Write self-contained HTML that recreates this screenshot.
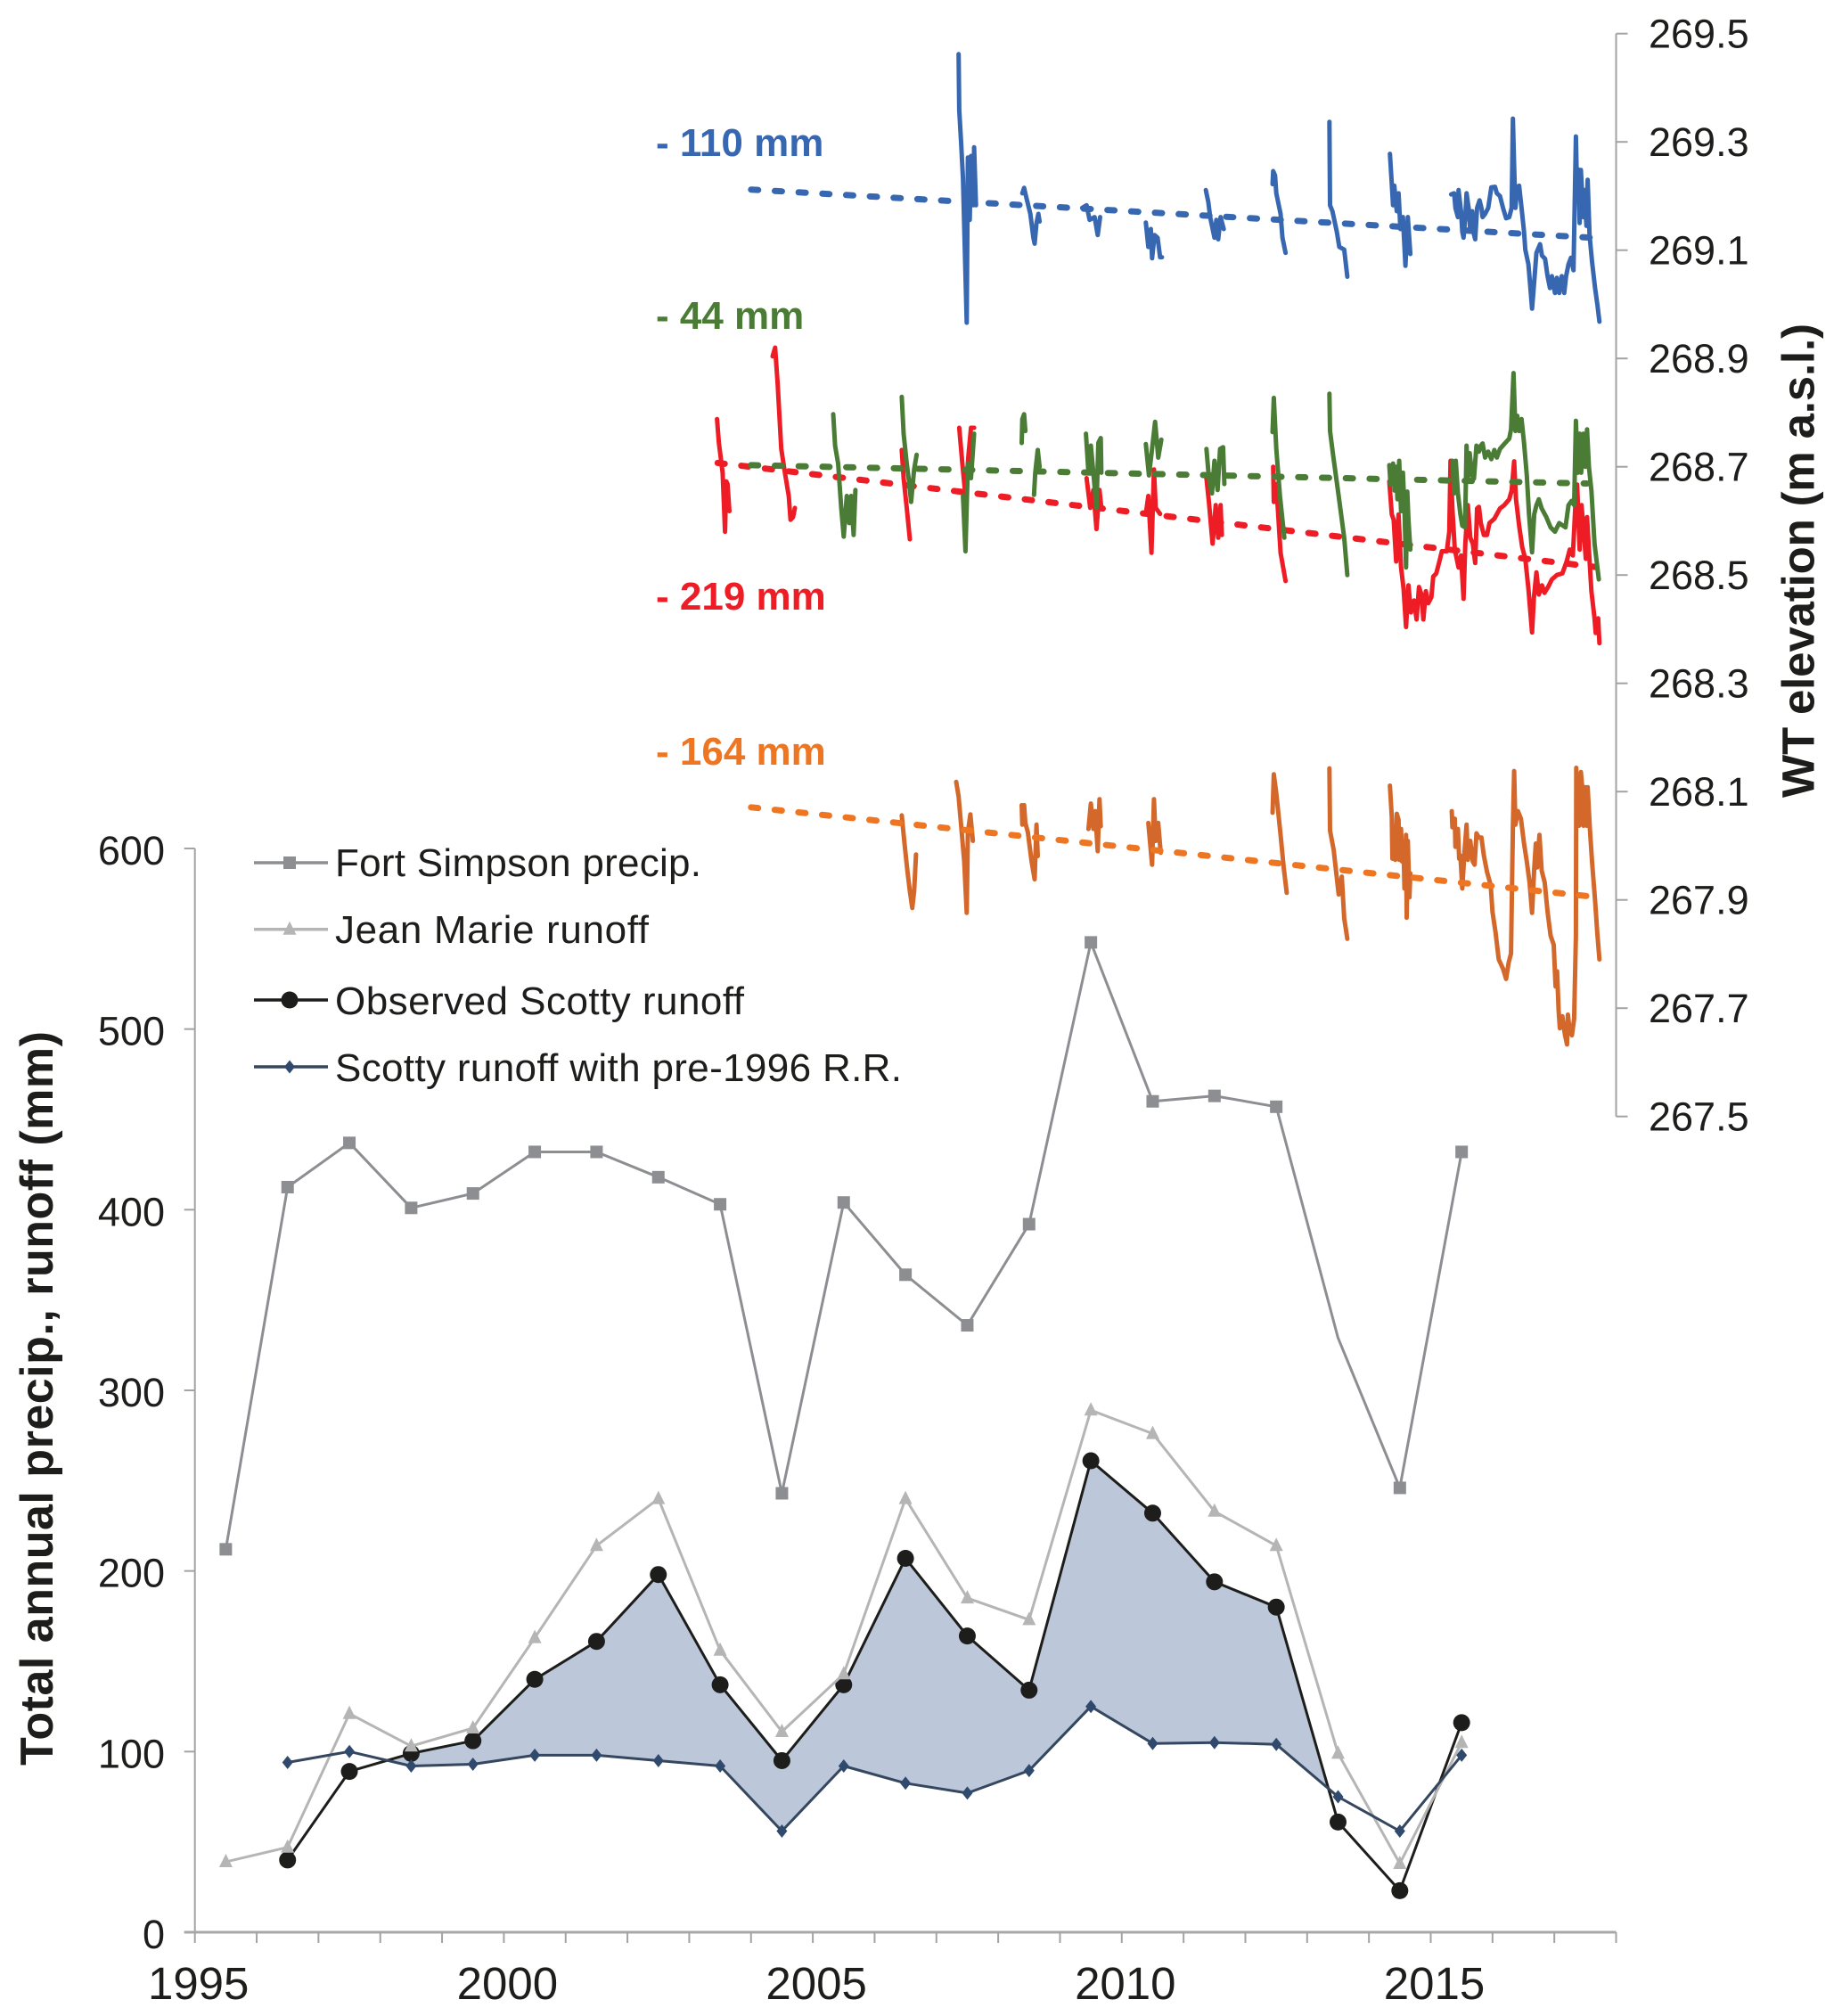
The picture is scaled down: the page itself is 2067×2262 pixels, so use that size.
<!DOCTYPE html>
<html lang="en">
<head>
<meta charset="utf-8">
<title>Annual precipitation, runoff and water table elevation</title>
<style>
html,body{margin:0;padding:0;background:#fff;}
#chart{display:block;width:2067px;height:2262px;font-family:"Liberation Sans",Arial,sans-serif;}
.tick{font-size:45px;fill:#1d1d1b;}
.xtick{font-size:51px;fill:#1d1d1b;text-anchor:middle;}
.legend{font-size:44px;fill:#1d1d1b;}
.title{font-size:51px;font-weight:bold;fill:#1d1d1b;}
.delta{font-size:44px;font-weight:bold;}
</style>
</head>
<body>
<svg id="chart" xmlns="http://www.w3.org/2000/svg" width="2067" height="2262" viewBox="0 0 2067 2262">
  <rect x="0" y="0" width="2067" height="2262" fill="#ffffff"/>
  <g id="axes"></g>
  <g id="shade"></g>
  <g id="wt"></g>
  <g id="annual"></g>
  <g id="legend">
    <text class="legend" x="376" y="983" textLength="411" lengthAdjust="spacing">Fort Simpson precip.</text>
    <text class="legend" x="376" y="1058" textLength="352" lengthAdjust="spacing">Jean Marie runoff</text>
    <text class="legend" x="376" y="1138" textLength="459" lengthAdjust="spacing">Observed Scotty runoff</text>
    <text class="legend" x="376" y="1213" textLength="636" lengthAdjust="spacing">Scotty runoff with pre-1996 R.R.</text>
  </g>
  <text class="delta" x="736" y="175" fill="#3767b1">- 110 mm</text>
  <text class="delta" x="736" y="369" fill="#4a7c35">- 44 mm</text>
  <text class="delta" x="736" y="684" fill="#ee1c25">- 219 mm</text>
  <text class="delta" x="736" y="858" fill="#ee7623">- 164 mm</text>
  <text class="title" style="font-size:52px" transform="translate(59,1981) rotate(-90)" textLength="824" lengthAdjust="spacing">Total annual precip., runoff (mm)</text>
  <text class="title" transform="translate(2035.6,895) rotate(-90)" textLength="532" lengthAdjust="spacing">WT elevation (m a.s.l.)</text>
</svg>
<script>
const xTickLabels = ["1995","2000","2005","2010","2015"];
const leftTickLabels = ["0","100","200","300","400","500","600"];
const rightTickLabels = ["267.5","267.7","267.9","268.1","268.3","268.5","268.7","268.9","269.1","269.3","269.5"];

const annualYears = [1995.5,1996.5,1997.5,1998.5,1999.5,2000.5,2001.5,2002.5,2003.5,2004.5,2005.5,2006.5,2007.5,2008.5,2009.5,2010.5,2011.5,2012.5,2013.5,2014.5,2015.5];
const fortSimpsonPrecip = [212,412.5,437,401,409,432,432,418,403,243,404,364,336,392,548,460,463,457,329,246,432];
const fortSimpsonMarked = [1,1,1,1,1,1,1,1,1,1,1,1,1,1,1,1,1,1,0,1,1];
const jeanMarieRunoff = [39,47,121,103,113,163,214,240,156,111,143,240,185,173,289,276,233,214,99,38,105];
const observedScottyRunoff = [null,40,89,99,106,140,161,198,137,95,137,207,164,134,261,232,194,180,61,23,116];
const scottyPre1996Runoff = [null,94,100,92,93,98,98,95,92,56,92,82.5,77,89.5,125,104.5,105,104,75,56,98];
const shadeYears = [1997.5,2014.5];

const blueYears = [
2007.36,2007.37,2007.40,2007.43,2007.49,2007.51,2007.54,2007.56,2007.60,2007.61,2007.64,null,
2008.39,2008.42,2008.45,2008.52,2008.57,2008.59,2008.62,2008.65,2008.67,null,
2009.36,2009.43,2009.48,2009.56,2009.61,2009.65,null,
2010.39,2010.43,2010.47,2010.49,2010.53,2010.58,2010.62,2010.65,null,
2011.36,2011.40,2011.43,2011.50,2011.53,2011.56,2011.60,2011.65,null,
2012.44,2012.45,2012.48,2012.50,2012.57,2012.60,2012.65,null,
2013.36,2013.37,2013.41,2013.48,2013.52,2013.60,2013.65,null,
2014.34,2014.37,2014.39,2014.41,2014.45,2014.48,2014.51,2014.55,2014.59,2014.63,2014.67,null,
2015.33,2015.38,2015.40,2015.44,2015.45,2015.49,2015.51,2015.53,2015.56,2015.58,
2015.62,2015.64,2015.67,2015.69,2015.72,2015.75,2015.79,2015.82,2015.84,2015.88,
2015.93,2015.98,2016.04,2016.07,2016.12,2016.17,2016.22,2016.27,2016.31,2016.33,
2016.35,2016.37,2016.40,2016.43,2016.47,2016.51,2016.53,2016.58,2016.61,2016.64,
2016.67,2016.71,2016.77,2016.80,2016.85,2016.89,2016.93,2016.96,2017.01,2017.04,
2017.08,2017.12,2017.16,2017.19,2017.23,2017.27,2017.31,2017.34,2017.35,2017.37,
2017.39,2017.41,2017.43,2017.47,2017.49,2017.52,2017.54,2017.57,2017.61,2017.66,
2017.70,2017.73
];
const blueLevels = [
269.462,269.359,269.299,269.233,268.966,269.271,269.156,269.274,269.183,269.290,269.183,null,
269.205,269.215,269.200,269.167,269.123,269.112,269.150,269.167,269.153,null,
269.178,269.183,269.156,269.161,269.128,269.161,null,
269.151,269.106,269.139,269.085,269.128,269.123,269.087,269.087,null,
269.211,269.189,269.161,269.123,269.156,269.120,269.161,269.139,null,
269.222,269.246,269.238,269.205,269.167,269.123,269.095,null,
269.337,269.183,269.172,269.134,269.106,269.101,269.051,null,
269.278,269.222,269.183,269.219,269.172,269.205,269.139,269.161,269.071,269.161,269.093,null,
269.203,269.205,269.178,269.161,269.211,269.172,269.134,269.123,269.161,269.205,
269.172,269.134,269.172,269.134,269.120,269.178,269.192,269.178,269.161,269.167,
269.178,269.216,269.217,269.205,269.200,269.178,269.159,269.161,269.178,269.343,
269.255,269.178,269.216,269.219,269.178,269.134,269.101,269.074,269.035,268.992,
269.035,269.095,269.111,269.090,269.084,269.052,269.030,269.052,269.021,269.049,
269.021,269.052,269.021,269.052,269.074,269.086,269.063,269.255,269.310,269.200,
269.249,269.150,269.248,269.161,269.211,269.145,269.230,269.128,269.079,269.030,
268.997,268.968
];
const blueTrendYears = [2004.00,2017.60];
const blueTrendLevels = [269.212,269.123];

const greenYears = [
2005.33,2005.36,2005.41,2005.46,2005.50,2005.55,2005.59,2005.62,2005.66,2005.69,null,
2006.44,2006.47,2006.52,2006.55,2006.59,2006.64,2006.68,null,
2007.43,2007.47,2007.51,2007.56,2007.61,null,
2008.38,2008.39,2008.42,2008.44,null,
2008.58,2008.60,2008.64,2008.67,null,
2009.42,2009.46,2009.50,2009.54,2009.59,2009.62,2009.66,2009.67,null,
2010.39,2010.44,2010.49,2010.54,2010.59,2010.64,null,
2011.37,2011.41,2011.46,2011.50,2011.55,2011.59,2011.64,2011.66,null,
2012.44,2012.46,2012.50,2012.56,2012.63,null,
2013.36,2013.37,2013.42,2013.51,2013.60,2013.65,null,
2014.33,2014.35,2014.39,2014.415,2014.44,2014.46,2014.49,2014.52,2014.55,2014.575,2014.60,2014.62,2014.64,2014.67,null,
2015.35,2015.38,2015.405,2015.44,2015.48,2015.51,2015.555,2015.58,2015.60,2015.63,
2015.67,2015.70,2015.74,2015.78,2015.81,2015.84,2015.88,2015.93,2015.98,2016.03,
2016.07,2016.12,2016.19,2016.27,2016.30,2016.34,2016.37,2016.40,2016.43,2016.47,
2016.51,2016.555,2016.59,2016.64,2016.675,2016.71,2016.75,2016.795,2016.87,2016.94,
2017.01,2017.08,2017.18,2017.23,2017.28,2017.32,2017.35,2017.38,2017.41,2017.435,
2017.47,2017.50,2017.53,2017.56,2017.60,2017.65,2017.685,2017.72
];
const greenLevels = [
268.797,268.739,268.706,268.624,268.571,268.646,268.596,268.646,268.574,268.657,null,
268.829,268.761,268.706,268.679,268.635,268.695,268.722,null,
268.646,268.544,268.706,268.679,268.761,null,
268.744,268.788,268.797,268.766,null,
268.648,268.689,268.731,268.700,null,
268.761,268.689,268.739,268.689,268.624,268.744,268.753,268.689,null,
268.742,268.684,268.733,268.783,268.717,268.750,null,
268.733,268.679,268.651,268.711,268.657,268.733,268.736,268.668,null,
268.764,268.827,268.733,268.646,268.569,null,
268.835,268.766,268.722,268.646,268.569,268.500,null,
268.703,268.667,268.706,268.656,268.700,268.640,268.711,268.618,268.689,268.623,268.514,268.654,268.602,268.547,null,
268.711,268.651,268.711,268.651,268.612,268.591,268.588,268.739,268.678,268.725,
268.684,268.678,268.739,268.728,268.739,268.743,268.717,268.728,268.714,268.731,
268.717,268.733,268.742,268.752,268.769,268.873,268.766,268.794,268.766,268.788,
268.744,268.684,268.612,268.542,268.612,268.629,268.640,268.623,268.607,268.588,
268.580,268.596,268.588,268.629,268.637,268.629,268.785,268.689,268.761,268.689,
268.761,268.700,268.769,268.700,268.656,268.558,268.525,268.492
];
const greenTrendYears = [2004.00,2017.53];
const greenTrendLevels = [268.703,268.669];

const redYears = [
2003.45,2003.48,2003.54,2003.58,2003.60,2003.62,2003.65,null,
2004.35,2004.39,2004.43,2004.49,2004.54,2004.61,2004.64,2004.68,2004.71,null,
2006.44,2006.47,2006.52,2006.57,null,
2007.37,2007.42,2007.47,2007.52,2007.56,2007.61,null,
2009.43,2009.49,2009.54,2009.59,2009.64,2009.67,null,
2010.39,2010.43,2010.48,2010.52,2010.55,2010.62,null,
2011.37,2011.41,2011.47,2011.52,2011.56,2011.60,2011.62,null,
2012.45,2012.46,2012.50,2012.57,2012.65,null,
2014.33,2014.37,2014.40,2014.44,2014.48,2014.52,2014.56,2014.60,2014.64,2014.68,
2014.73,2014.77,2014.81,2014.85,2014.88,2014.92,2014.96,2015.01,2015.04,2015.09,
2015.14,2015.18,2015.26,2015.30,2015.32,2015.35,2015.39,2015.45,2015.49,2015.53,
2015.56,2015.60,2015.64,2015.68,2015.72,2015.75,2015.78,2015.81,2015.86,2015.91,
2015.95,2016.03,2016.12,2016.19,2016.27,2016.31,2016.35,2016.38,2016.43,2016.48,
2016.53,2016.58,2016.64,2016.67,2016.71,2016.75,2016.80,2016.84,2016.90,2016.96,
2017.04,2017.13,2017.20,2017.25,2017.30,2017.34,2017.37,2017.41,2017.44,2017.48,
2017.51,2017.53,2017.56,2017.60,2017.65,2017.67,2017.71,2017.73
];
const redLevels = [
268.788,268.744,268.689,268.580,268.673,268.668,268.618,null,
268.904,268.920,268.854,268.733,268.695,268.646,268.602,268.607,268.624,null,
268.731,268.679,268.624,268.566,null,
268.772,268.706,268.646,268.722,268.772,268.772,null,
268.679,268.624,268.657,268.585,268.657,268.624,null,
268.613,268.646,268.541,268.695,268.624,268.613,null,
268.679,268.635,268.558,268.629,268.569,268.629,268.574,null,
268.700,268.635,268.668,268.541,268.489,null,
268.673,268.612,268.602,268.525,268.612,268.514,268.475,268.404,268.481,268.431,
268.453,268.418,268.478,268.464,268.418,268.470,268.448,268.459,268.497,268.503,
268.525,268.544,268.544,268.580,268.711,268.623,268.547,268.514,268.536,268.456,
268.558,268.629,268.569,268.558,268.522,268.623,268.626,268.596,268.574,268.574,
268.596,268.604,268.623,268.629,268.640,268.656,268.710,268.640,268.591,268.552,
268.530,268.475,268.394,268.459,268.505,268.464,268.481,268.467,268.478,268.492,
268.500,268.503,268.525,268.547,268.536,268.629,268.667,268.547,268.629,268.574,
268.530,268.607,268.547,268.470,268.420,268.393,268.420,268.374
];
const redTrendYears = [2003.46,2017.66];
const redTrendLevels = [268.707,268.515];

const orangeYears = [
2006.44,2006.48,2006.53,2006.57,2006.61,2006.64,2006.67,null,
2007.32,2007.36,2007.41,2007.45,2007.49,2007.51,2007.55,2007.59,null,
2008.38,2008.39,2008.42,2008.44,2008.48,2008.54,2008.59,2008.62,2008.64,null,
2009.46,2009.50,2009.54,2009.57,2009.61,2009.64,2009.66,null,
2010.43,2010.49,2010.52,2010.55,2010.59,2010.63,null,
2012.44,2012.46,2012.50,2012.57,2012.62,2012.67,null,
2013.36,2013.37,2013.43,2013.51,2013.56,2013.60,2013.65,null,
2014.34,2014.37,2014.38,2014.40,2014.425,2014.45,2014.48,2014.49,2014.52,2014.535,2014.56,2014.575,2014.60,2014.61,2014.63,2014.655,2014.67,null,
2015.34,2015.35,2015.39,2015.40,2015.44,2015.46,2015.48,2015.51,2015.545,2015.58,
2015.60,2015.64,2015.68,2015.71,2015.74,2015.78,2015.82,2015.86,2015.91,2015.97,
2016.00,2016.05,2016.10,2016.17,2016.22,2016.26,2016.30,2016.33,2016.35,2016.37,
2016.41,2016.46,2016.51,2016.555,2016.60,2016.64,2016.675,2016.70,2016.72,2016.76,
2016.795,2016.845,2016.89,2016.94,2016.99,2017.02,2017.045,2017.07,2017.09,2017.13,
2017.17,2017.205,2017.22,2017.25,2017.285,2017.32,2017.35,2017.355,2017.37,2017.40,
2017.43,2017.46,2017.47,2017.50,2017.525,2017.54,2017.575,2017.61,2017.66,2017.695,
2017.73
];
const orangeLevels = [
268.056,268.009,267.954,267.916,267.885,267.916,267.984,null,
268.118,268.091,268.025,267.971,267.876,268.025,268.058,268.009,null,
268.075,268.039,268.075,268.042,268.025,267.971,267.938,268.039,267.981,null,
268.031,268.078,268.031,268.064,267.990,268.086,268.036,null,
268.042,267.965,268.086,268.009,268.042,267.987,null,
268.061,268.132,268.097,268.020,267.960,267.913,null,
268.143,268.028,267.992,267.910,267.943,267.866,267.828,null,
268.111,268.053,267.976,268.031,267.974,268.059,268.048,267.974,268.031,267.971,267.998,267.921,268.020,267.867,268.009,267.905,267.949,null,
268.064,268.034,268.050,267.998,268.031,267.976,267.982,267.921,267.987,268.039,
267.974,268.009,267.971,267.965,268.023,268.015,268.015,267.982,267.952,267.927,
267.878,267.839,267.790,267.773,267.754,267.784,267.801,268.037,268.138,268.039,
268.064,268.050,268.004,267.971,267.932,267.876,267.957,268.004,267.960,268.020,
267.954,267.932,267.878,267.834,267.817,267.740,267.768,267.696,267.663,267.685,
267.652,267.633,267.688,267.658,267.650,267.680,267.834,268.144,268.053,268.037,
268.136,268.097,268.037,268.108,268.037,268.108,268.031,267.971,267.899,267.839,
267.790
];
const orangeTrendYears = [2004.00,2017.53];
const orangeTrendLevels = [268.071,267.907];

const NS = "http://www.w3.org/2000/svg";
const xAt = y => 218.7 + (y - 1995) * 69.34;
const yLeft = v => 2168 - v * 2.0267;
const yRight = v => 37.7 + (269.5 - v) * 607.5;

function make(parent, tag, attrs, text) {
  const el = document.createElementNS(NS, tag);
  for (const k in attrs) el.setAttribute(k, attrs[k]);
  if (text !== undefined) el.textContent = text;
  parent.appendChild(el);
  return el;
}
function num(v) { return v.toFixed(1); }

const axes = document.getElementById("axes");
const axisColor = "#a3a3a3";

/* left axis */
const leftAxis = make(axes, "line", {x1:xAt(1995),x2:xAt(1995),y1:yLeft(0),y2:yLeft(600),stroke:axisColor,"stroke-width":2});


leftTickLabels.forEach(t => {
  const v = parseFloat(t);
  const tick = make(axes, "line", {x1:xAt(1995)-12,x2:xAt(1995),y1:yLeft(v),y2:yLeft(v),stroke:axisColor,"stroke-width":2});
  
  
  const lab = make(axes, "text", {class:"tick",x:185,y:yLeft(v)+18,"text-anchor":"end"}, t);
  
  
});

/* bottom axis */
const bottomAxis = make(axes, "line", {x1:xAt(1995)-12,x2:xAt(2018),y1:yLeft(0),y2:yLeft(0),stroke:"#a8a8a8","stroke-width":3});


for (let yr = 1995; yr <= 2018; yr++) {
  const tick = make(axes, "line", {x1:xAt(yr),x2:xAt(yr),y1:yLeft(0),y2:yLeft(0)+12,stroke:axisColor,"stroke-width":2});
  
  
}
xTickLabels.forEach(t => {
  const lab = make(axes, "text", {class:"xtick",x:xAt(parseFloat(t))+4,y:2243}, t);
  
  
});

/* right axis */
const rightAxis = make(axes, "line", {x1:xAt(2018),x2:xAt(2018),y1:yRight(269.5),y2:yRight(267.5),stroke:axisColor,"stroke-width":2});


rightTickLabels.forEach(t => {
  const v = parseFloat(t);
  const tick = make(axes, "line", {x1:xAt(2018),x2:xAt(2018)+13,y1:yRight(v),y2:yRight(v),stroke:axisColor,"stroke-width":2});
  
  
  const lab = make(axes, "text", {class:"tick",x:1850,y:yRight(v)+15.8}, t);
  
  
});

/* shaded area between observed and pre-1996 runoff */
(function () {
  const top = [], bot = [];
  for (let i = 0; i < annualYears.length - 1; i++) {
    const y0 = annualYears[i], y1 = annualYears[i + 1];
    if (y0 < shadeYears[0] || y1 > shadeYears[1]) continue;
    const o0 = observedScottyRunoff[i], o1 = observedScottyRunoff[i + 1];
    const p0 = scottyPre1996Runoff[i], p1 = scottyPre1996Runoff[i + 1];
    const d0 = o0 - p0, d1 = o1 - p1;
    if (d0 <= 0 && d1 <= 0) continue;
    if (d0 > 0) { top.push([y0, o0]); bot.push([y0, p0]); }
    if (d0 * d1 < 0) {
      const t = d0 / (d0 - d1);
      const cy = y0 + t * (y1 - y0), cv = o0 + t * (o1 - o0);
      top.push([cy, cv]); bot.push([cy, cv]);
    }
  }
  const pts = top.concat(bot.reverse()).map(p => num(xAt(p[0])) + "," + num(yLeft(p[1]))).join(" ");
  const poly = make(document.getElementById("shade"), "polygon", {points:pts,fill:"#bcc7da"});
  
  
})();

/* water table lines */
const wt = document.getElementById("wt");
function tracePath(years, levels) {
  let d = "", pen = false;
  years.forEach((yr, i) => {
    if (yr === null || levels[i] === null) { pen = false; return; }
    d += (pen ? "L" : "M") + num(xAt(yr)) + " " + num(yRight(levels[i]));
    pen = true;
  });
  return d;
}
const wtStyle = {fill:"none","stroke-width":5,"stroke-linejoin":"round","stroke-linecap":"round"};
const trendStyle = {fill:"none","stroke-width":7,"stroke-linecap":"round","stroke-dasharray":"8 18.7"};

const orangeLine = make(wt, "path", Object.assign({d:tracePath(orangeYears, orangeLevels),stroke:"#d4682a"}, wtStyle));


const orangeTrend = make(wt, "path", Object.assign({d:tracePath(orangeTrendYears, orangeTrendLevels),stroke:"#ee7623"}, trendStyle));



const blueLine = make(wt, "path", Object.assign({d:tracePath(blueYears, blueLevels),stroke:"#3767b1"}, wtStyle));


const blueTrend = make(wt, "path", Object.assign({d:tracePath(blueTrendYears, blueTrendLevels),stroke:"#3767b1"}, trendStyle));



const redLine = make(wt, "path", Object.assign({d:tracePath(redYears, redLevels),stroke:"#ee1c25"}, wtStyle));


const redTrend = make(wt, "path", Object.assign({d:tracePath(redTrendYears, redTrendLevels),stroke:"#ee1c25"}, trendStyle));


const greenLine = make(wt, "path", Object.assign({d:tracePath(greenYears, greenLevels),stroke:"#4a7c35"}, wtStyle));


const greenTrend = make(wt, "path", Object.assign({d:tracePath(greenTrendYears, greenTrendLevels),stroke:"#4a7c35"}, trendStyle));



/* markers */
function marker(parent, kind, cx, cy, color) {
  if (kind === "square") return make(parent, "rect", {x:cx-7,y:cy-7,width:14,height:14,fill:color});
  if (kind === "circle") return make(parent, "ellipse", {cx:cx,cy:cy,rx:9.5,ry:9.5,fill:color});
  if (kind === "triangle") return make(parent, "polygon", {points:`${num(cx)},${num(cy-9)} ${num(cx+7.5)},${num(cy+6)} ${num(cx-7.5)},${num(cy+6)}`,fill:color});
  return make(parent, "polygon", {points:`${num(cx)},${num(cy-7.5)} ${num(cx+6)},${num(cy)} ${num(cx)},${num(cy+7.5)} ${num(cx-6)},${num(cy)}`,fill:color});
}

const annual = document.getElementById("annual");
function drawSeries(values, color, kind, marked) {
  let d = "", pen = false;
  values.forEach((v, i) => {
    if (v === null) { pen = false; return; }
    d += (pen ? "L" : "M") + num(xAt(annualYears[i])) + " " + num(yLeft(v));
    pen = true;
  });
  const line = make(annual, "path", {d:d,fill:"none",stroke:color,"stroke-width":3,"stroke-linejoin":"round"});
  
  
  values.forEach((v, i) => {
    if (v === null || (marked && !marked[i])) return;
    const m = marker(annual, kind, xAt(annualYears[i]), yLeft(v), kind === "diamond" ? "#2f4a6d" : color);
    
    
  });
}
drawSeries(fortSimpsonPrecip, "#8c8e91", "square", fortSimpsonMarked);
drawSeries(observedScottyRunoff, "#1d1d1b", "circle");
drawSeries(jeanMarieRunoff, "#b5b5b6", "triangle");
drawSeries(scottyPre1996Runoff, "#35465f", "diamond");

/* legend swatches */
const legend = document.getElementById("legend");
const legendKinds = ["square","triangle","circle","diamond"];
const legendColors = ["#8c8e91","#b5b5b6","#1d1d1b","#35465f"];
const legendRows = [968,1042.7,1122,1197];
legendKinds.forEach((k, i) => {
  const ln = make(legend, "line", {x1:285,x2:368,y1:legendRows[i],y2:legendRows[i],stroke:legendColors[i],"stroke-width":3.5});
  
  
  const mk = marker(legend, k, 325, legendRows[i], k === "diamond" ? "#2f4a6d" : legendColors[i]);
  
  
});
</script>
</body>
</html>
